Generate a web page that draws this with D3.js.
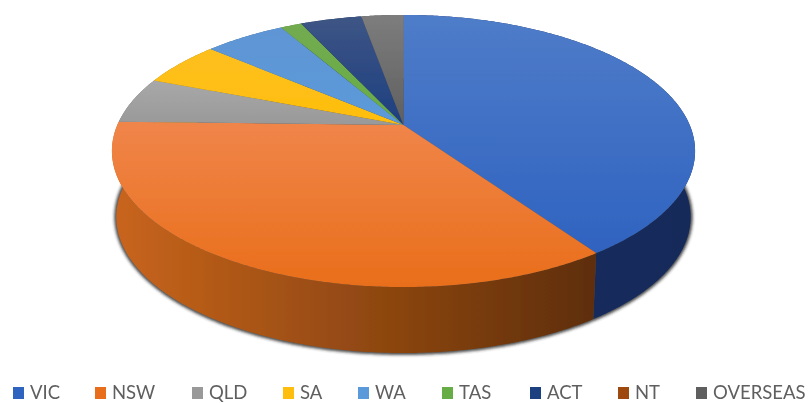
<!DOCTYPE html>
<html>
<head>
<meta charset="utf-8">
<script src="https://d3js.org/d3.v7.min.js"></script>
<style>
  html, body { margin: 0; padding: 0; background: #fff; }
  svg { display: block; }
  .legend text { font-family: Lato, "Open Sans", sans-serif; font-size: 18.5px; fill: #5f5f5f; }
</style>
</head>
<body>
<div id="chart"></div>
<script>
// chart values (share of total, %)
var categories = ["VIC", "NSW", "QLD", "SA", "WA", "TAS", "ACT", "NT", "OVERSEAS"];
var shares = [40.4, 35.0, 5.5, 5.4, 5.4, 1.4, 4.1, 0, 2.8];

var topColors = ["#2f63c0", "#e96e1a", "#999999", "#ffbe0a", "#5a9ada", "#66ad45", "#1c3f80", "#9e480e", "#5f5f5f"];
var topLight = ["#4f7cc9", "#f0854a", "#a8a8a8", "#fdbf20", "#5f95d4", "#73ab50", "#3e5585", "#a9541c", "#7d7d7d"];
var wallLeft = ["#17305f", "#c9651c", "#6e6e6e", "#a87e00", "#3a6a96", "#4b7530", "#17294a", "#6b3009", "#444444"];
var wallRight = ["#14295a", "#5e2e08", "#6e6e6e", "#a87e00", "#3a6a96", "#4b7530", "#17294a", "#6b3009", "#444444"];

var legendX = [13, 95, 192, 283, 358, 442, 530, 618, 696];

var width = 811, height = 403;

var svg = d3.select("#chart").append("svg")
    .attr("width", width)
    .attr("height", height);

var defs = svg.append("defs");

defs.append("filter").attr("id", "soft")
    .attr("x", "-5%").attr("y", "-5%").attr("width", "110%").attr("height", "110%")
    .append("feGaussianBlur").attr("stdDeviation", 0.7);
defs.append("filter").attr("id", "shadow")
    .attr("x", "-10%").attr("y", "-10%").attr("width", "120%").attr("height", "120%")
    .append("feGaussianBlur").attr("stdDeviation", 1.8);

// perspective of the tilted disc: u, v on the unit circle, h = 0 top face, 1 bottom face
function project(u, v, h) {
    var w = 1 - 0.191 * v;
    var shrink = 1 - 0.015 * h;
    return [
        403.5 + shrink * 286.2 * u / w,
        (107.2 * v + 125) / w + 66 * h
    ];
}

function rimPoint(a, h) {
    return project(Math.sin(a), -Math.cos(a), h);
}

// d3.pie gives the slice angles, clockwise from 12 o'clock
var pie = d3.pie().sort(null).value(function (d) { return d; });
var arcs = pie(shares);
var line = d3.line();

function rimAngles(a0, a1) {
    var n = Math.max(2, Math.ceil((a1 - a0) / 0.01));
    return d3.range(n + 1).map(function (i) { return a0 + (a1 - a0) * i / n; });
}

function gradient(id, x1, y1, x2, y2, c1, c2) {
    var g = defs.append("linearGradient").attr("id", id)
        .attr("gradientUnits", "objectBoundingBox")
        .attr("x1", x1).attr("y1", y1).attr("x2", x2).attr("y2", y2);
    g.append("stop").attr("offset", "0%").attr("stop-color", c1);
    g.append("stop").attr("offset", "100%").attr("stop-color", c2);
}

categories.forEach(function (c, i) {
    gradient("top" + i, 0, 0, 0, 1, topLight[i], topColors[i]);
    gradient("wall" + i, 0, 0, 1, 0, wallLeft[i], wallRight[i]);
});

var pieGroup = svg.append("g").attr("filter", "url(#soft)");

// soft shadow under the disc
pieGroup.append("path")
    .attr("d", line(rimAngles(0, 2 * Math.PI).map(function (a) { return rimPoint(a, 1); })) + "Z")
    .attr("fill", "#222")
    .attr("stroke", "#222")
    .attr("stroke-width", 4)
    .attr("opacity", 0.8)
    .attr("filter", "url(#shadow)");

// outer wall of each slice
pieGroup.append("g").selectAll("path")
    .data(arcs)
    .enter()
    .append("path")
    .attr("d", function (d) {
        var angles = rimAngles(d.startAngle, d.endAngle);
        var upper = angles.map(function (a) { return rimPoint(a, 0); });
        var lower = angles.slice().reverse().map(function (a) { return rimPoint(a, 1); });
        return line(upper.concat(lower)) + "Z";
    })
    .attr("fill", function (d, i) { return "url(#wall" + i + ")"; });

// top face of each slice
pieGroup.append("g").selectAll("path")
    .data(arcs)
    .enter()
    .append("path")
    .attr("d", function (d) {
        var pts = [project(0, 0, 0)].concat(
            rimAngles(d.startAngle, d.endAngle).map(function (a) { return rimPoint(a, 0); }));
        return line(pts) + "Z";
    })
    .attr("fill", function (d, i) { return "url(#top" + i + ")"; });

// legend along the bottom
var legend = svg.append("g").attr("class", "legend").attr("filter", "url(#soft)")
    .selectAll("g")
    .data(categories)
    .enter()
    .append("g")
    .attr("transform", function (d, i) { return "translate(" + legendX[i] + ",393)"; });

legend.append("rect")
    .attr("y", -6)
    .attr("width", 11)
    .attr("height", 12)
    .attr("fill", function (d, i) { return topColors[i]; });

legend.append("text")
    .attr("x", 17)
    .attr("y", 6)
    .text(function (d) { return d; });
</script>
</body>
</html>
